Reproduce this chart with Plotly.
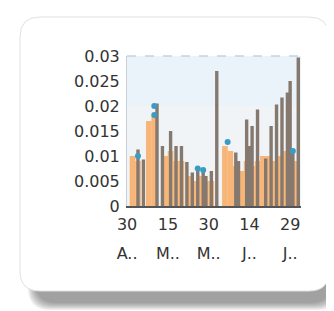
import plotly.graph_objects as go

# ---- data ----
dark_dates = ["2013-05-04", "2013-05-06", "2013-05-11", "2013-05-13", "2013-05-16", "2013-05-18",
              "2013-05-20", "2013-05-22", "2013-05-24", "2013-05-26", "2013-05-28", "2013-05-29",
              "2013-05-31", "2013-06-02", "2013-06-09", "2013-06-10", "2013-06-13", "2013-06-14",
              "2013-06-15", "2013-06-17", "2013-06-20", "2013-06-22", "2013-06-24", "2013-06-26",
              "2013-06-28", "2013-06-29", "2013-06-30", "2013-07-02"]
dark_values = [0.0113, 0.0093, 0.0205, 0.012, 0.015, 0.012,
               0.012, 0.0088, 0.0067, 0.0075, 0.007, 0.006,
               0.007, 0.027, 0.0107, 0.009, 0.0173, 0.012,
               0.016, 0.0193, 0.0095, 0.016, 0.0203, 0.0217,
               0.0227, 0.025, 0.011, 0.0297]

orange_dates = ["2013-05-02", "2013-05-04", "2013-05-08", "2013-05-10", "2013-05-14", "2013-05-16",
                "2013-05-18", "2013-05-20", "2013-05-23", "2013-05-25", "2013-05-27", "2013-05-29",
                "2013-05-31", "2013-06-05", "2013-06-07", "2013-06-09", "2013-06-11", "2013-06-13",
                "2013-06-15", "2013-06-17", "2013-06-19", "2013-06-21", "2013-06-23", "2013-06-25",
                "2013-06-27", "2013-06-29", "2013-07-01"]
orange_values = [0.010, 0.009, 0.017, 0.018, 0.010, 0.011,
                 0.009, 0.009, 0.006, 0.005, 0.006, 0.005,
                 0.005, 0.012, 0.011, 0.008, 0.007, 0.009,
                 0.008, 0.009, 0.010, 0.010, 0.009, 0.010,
                 0.011, 0.010, 0.009]

marker_dates = ["2013-05-04", "2013-05-10", "2013-05-10", "2013-05-26", "2013-05-28", "2013-06-06", "2013-06-30"]
marker_values = [0.0100, 0.0182, 0.0200, 0.0075, 0.0072, 0.0128, 0.011]

x_tick_dates = ["2013-04-30", "2013-05-15", "2013-05-30", "2013-06-14", "2013-06-29"]
x_tick_days = ["30", "15", "30", "14", "29"]
x_tick_months = ["A..", "M..", "M..", "J..", "J.."]
y_tick_vals = [0, 0.005, 0.01, 0.015, 0.02, 0.025, 0.03]
y_tick_text = ["0", "0.005", "0.01", "0.015", "0.02", "0.025", "0.03"]

# ---- geometry (pixels) ----
W, H = 334, 311
PL, PR, PT, PB = 119, 293, 48, 198
pw, ph = PR - PL, PB - PT


def px2paper(x, y):
    return (x - PL) / pw, (PB - y) / ph


def rrect(x0, y0, x1, y1, r):
    def P(x, y):
        a, b = px2paper(x, y)
        return f"{a:.4f},{b:.4f}"
    return (f"M {P(x0 + r, y0)} L {P(x1 - r, y0)} Q {P(x1, y0)} {P(x1, y0 + r)} "
            f"L {P(x1, y1 - r)} Q {P(x1, y1)} {P(x1 - r, y1)} L {P(x0 + r, y1)} "
            f"Q {P(x0, y1)} {P(x0, y1 - r)} L {P(x0, y0 + r)} Q {P(x0, y0)} {P(x0 + r, y0)} Z")


shapes = []
# soft shadow (offset right/down)
for i in range(8):
    shapes.append(dict(type="path", xref="paper", yref="paper", layer="below",
                       path=rrect(20 + i, 18 + i, 331 - i, 302 - i, 22),
                       fillcolor="rgba(70,70,70,0.08)", line=dict(width=0)))
# card
shapes.append(dict(type="path", xref="paper", yref="paper", layer="below",
                   path=rrect(12, 9, 321, 283, 20),
                   fillcolor="white", line=dict(color="rgba(225,225,225,1)", width=1)))
# plot background
shapes.append(dict(type="rect", xref="paper", yref="paper", layer="below",
                   x0=0, x1=1, y0=0, y1=1, fillcolor="#eaf3f9", line=dict(width=0)))
shapes.append(dict(type="rect", xref="paper", yref="paper", layer="below",
                   x0=0, x1=1, y0=0, y1=0.667, fillcolor="rgba(255,250,240,0.3)", line=dict(width=0)))
# dashed top line
shapes.append(dict(type="line", xref="paper", yref="paper", layer="below",
                   x0=0, x1=1, y0=1, y1=1, line=dict(color="#c6d3dc", width=1.5, dash="dash")))

DAY = 86400000
fig = go.Figure()
fig.add_trace(go.Bar(x=orange_dates, y=orange_values, width=2.1 * DAY,
                     marker=dict(color="#f7b677", line=dict(width=0))))
fig.add_trace(go.Bar(x=dark_dates, y=dark_values, width=1.25 * DAY,
                     marker=dict(color="#85786f", line=dict(width=0))))
fig.add_trace(go.Scatter(x=marker_dates, y=marker_values, mode="markers",
                         marker=dict(color="#3a9cc4", size=6)))
# invisible trace to carry the month axis
fig.add_trace(go.Scatter(x=x_tick_dates, y=[0] * len(x_tick_dates), xaxis="x2",
                         mode="markers", marker=dict(opacity=0), hoverinfo="skip"))

xrange = ["2013-04-29 23:00", "2013-07-03 00:00"]
fig.update_layout(
    width=W, height=H, showlegend=False, barmode="overlay",
    margin=dict(l=PL, r=W - PR, t=PT, b=H - PB, pad=0),
    paper_bgcolor="white", plot_bgcolor="rgba(0,0,0,0)",
    shapes=shapes,
    font=dict(family="DejaVu Sans", size=16, color="#333333"),
    xaxis=dict(type="date", range=xrange,
               tickvals=x_tick_dates, ticktext=x_tick_days, tickangle=0,
               showgrid=False, zeroline=False, showline=True, linecolor="#555555", linewidth=2,
               ticks="outside", ticklen=3, tickcolor="rgba(0,0,0,0)",
               tickfont=dict(size=16, family="DejaVu Sans")),
    xaxis2=dict(type="date", range=xrange, overlaying="x", side="bottom", anchor="y",
                tickvals=x_tick_dates, ticktext=x_tick_months, tickangle=0,
                showgrid=False, zeroline=False, showline=False,
                ticks="outside", ticklen=33, tickcolor="rgba(0,0,0,0)",
                tickfont=dict(size=16, family="DejaVu Sans")),
    yaxis=dict(range=[0, 0.03], tickvals=y_tick_vals, ticktext=y_tick_text,
               showgrid=False, zeroline=False, showline=True,
               linecolor="rgba(185,195,205,0.8)", linewidth=1,
               ticks="outside", ticklen=3, tickcolor="rgba(0,0,0,0)",
               tickfont=dict(size=16, family="DejaVu Sans")),
)

fig.write_html("out.html")
